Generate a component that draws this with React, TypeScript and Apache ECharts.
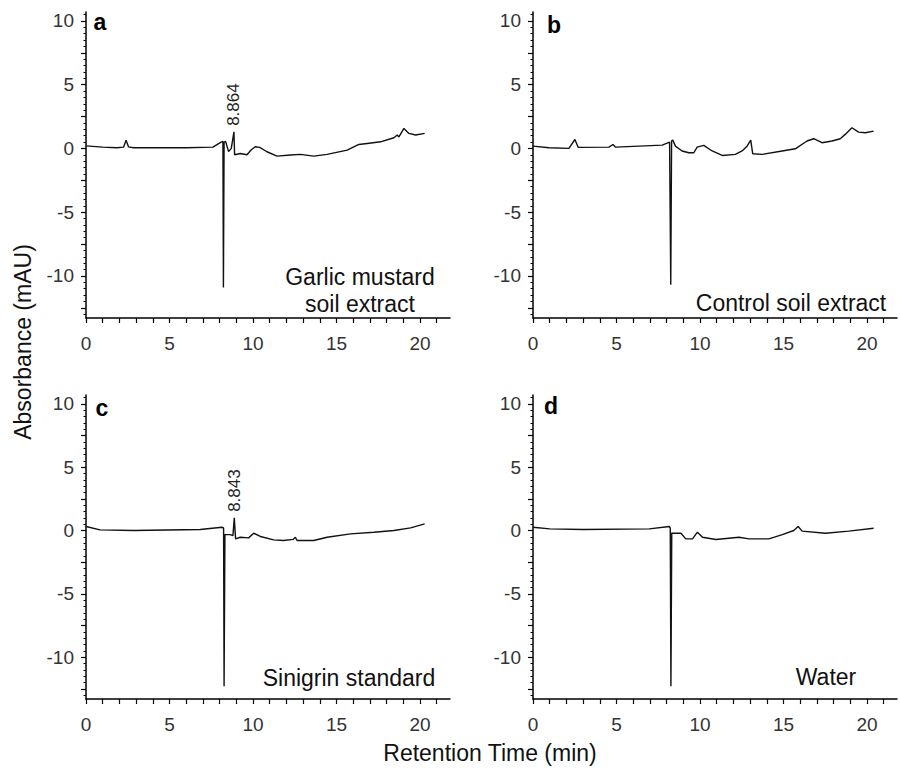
import React, { useEffect, useRef } from "react";
import * as echarts from "echarts";

const panelLetters = ["a", "b", "c", "d"];
const sampleNames = ["Garlic mustard\nsoil extract", "Control soil extract", "Sinigrin standard", "Water"];
const xAxisTitle = "Retention Time (min)";
const yAxisTitle = "Absorbance (mAU)";
const xTickLabels = [0, 5, 10, 15, 20];
const xTicks = [0, 1, 2, 3, 4, 5, 6, 7, 8, 9, 10, 11, 12, 13, 14, 15, 16, 17, 18, 19, 20, 21];
const yTickLabels = [-10, -5, 0, 5, 10];
const yMajorTicks = [-12.5, -10, -7.5, -5, -2.5, 0, 2.5, 5, 7.5, 10];
const yMinorTicks = [
  -13, -12.5, -12, -11.5, -11, -10.5, -10, -9.5, -9, -8.5, -8, -7.5, -7, -6.5, -6, -5.5, -5, -4.5, -4, -3.5, -3,
  -2.5, -2, -1.5, -1, -0.5, 0, 0.5, 1, 1.5, 2, 2.5, 3, 3.5, 4, 4.5, 5, 5.5, 6, 6.5, 7, 7.5, 8, 8.5, 9, 9.5, 10, 10.5,
];

// [retention time (min), absorbance (mAU)]
const traceA = [
  [0, 0.2], [1.0, 0.1], [1.84, 0.05], [2.25, 0.1], [2.4, 0.65], [2.55, 0.12], [2.84, 0.05], [4, 0.05], [6, 0.05],
  [7.6, 0.1], [8.04, 0.45], [8.2, 0.55], [8.23, -10.9], [8.27, 0.5], [8.36, 0.55], [8.54, -0.25], [8.7, 0.0],
  [8.86, 1.3], [8.9, -0.5], [9.24, -0.4], [9.64, -0.5], [9.9, -0.1], [10.14, 0.13], [10.4, 0.08], [10.84, -0.26],
  [11.44, -0.6], [12.24, -0.52], [12.84, -0.47], [13.64, -0.6], [14.44, -0.47], [15.64, -0.13], [16.34, 0.31],
  [16.84, 0.39], [17.64, 0.52], [18.44, 0.84], [18.64, 1.05], [18.74, 0.9], [19.04, 1.57], [19.34, 1.18],
  [19.74, 1.05], [20.28, 1.18],
];
const traceB = [
  [0, 0.18], [0.96, 0.05], [2.15, 0.0], [2.51, 0.7], [2.71, 0.08], [4.55, 0.1], [4.79, 0.31], [4.95, 0.1],
  [7.74, 0.26], [8.18, 0.5], [8.25, -10.7], [8.3, 0.6], [8.37, 0.65], [8.53, 0.18], [8.93, -0.2], [9.33, -0.34],
  [9.63, -0.34], [9.83, 0.1], [10.23, 0.24], [10.73, -0.2], [11.33, -0.55], [12.12, -0.47], [12.52, -0.2],
  [12.82, 0.18], [13.04, 0.65], [13.16, -0.42], [13.72, -0.47], [14.92, -0.2], [15.71, -0.03], [16.41, 0.58],
  [16.81, 0.76], [17.31, 0.45], [17.91, 0.58], [18.4, 0.76], [18.7, 1.1], [19.1, 1.62], [19.5, 1.28],
  [19.9, 1.23], [20.4, 1.36],
];
const traceC = [
  [0, 0.32], [0.84, 0.05], [2.84, 0.0], [6.84, 0.08], [8.14, 0.26], [8.24, 0.2], [8.27, -12.3], [8.32, -0.3],
  [8.36, -0.32], [8.64, -0.32], [8.8, -0.4], [8.88, 1.0], [8.96, -0.66], [9.24, -0.53], [9.74, -0.58],
  [10.04, -0.21], [10.44, -0.47], [11.24, -0.74], [11.84, -0.79], [12.4, -0.7], [12.54, -0.53], [12.64, -0.79],
  [13.64, -0.79], [14.44, -0.53], [15.84, -0.26], [17.24, -0.13], [18.44, 0.0], [19.44, 0.21], [20.28, 0.53],
];
const traceD = [
  [0, 0.26], [1.0, 0.13], [2.99, 0.08], [6.97, 0.13], [8.16, 0.32], [8.22, 0.2], [8.26, -12.3], [8.31, -0.2],
  [8.36, -0.21], [8.86, -0.21], [9.15, -0.66], [9.55, -0.66], [9.85, -0.13], [10.15, -0.53], [10.95, -0.71],
  [12.34, -0.53], [12.94, -0.66], [14.13, -0.66], [14.93, -0.32], [15.62, 0.0], [15.88, 0.32], [16.12, -0.05],
  [17.51, -0.21], [18.91, -0.05], [20.4, 0.18],
];
const traces = [traceA, traceB, traceC, traceD];

const peakAnnotations = [
  { panel: 0, time: 8.86, value: 1.3, text: "8.864" },
  { panel: 2, time: 8.9, value: 1.0, text: "8.843" },
];

const FONT = "'Liberation Sans', Arial, sans-serif";

const grids = [
  { left: 86, top: 12, width: 364, height: 306 },
  { left: 533, top: 12, width: 364, height: 306 },
  { left: 86, top: 395, width: 364, height: 304 },
  { left: 533, top: 395, width: 364, height: 304 },
];
const letterPos = [
  [100, 22],
  [554, 25],
  [102, 408],
  [551, 406],
];
const namePos = [
  [360, 290],
  [791, 303],
  [349, 678],
  [826, 677],
];

export default function App() {
  const ref = useRef<HTMLDivElement>(null);
  useEffect(() => {
    if (!ref.current) return;
    const chart = echarts.init(ref.current, null, { renderer: "svg" });
    const xAxes = grids.map((_, i) => ({
      type: "value",
      gridIndex: i,
      min: 0,
      max: 21.8,
      axisLine: { show: true, onZero: false, lineStyle: { color: "#000", width: 1.5 } },
      axisTick: { show: true, customValues: xTicks, length: 5, lineStyle: { color: "#000", width: 1.2 } },
      axisLabel: { customValues: xTickLabels, fontSize: 19, color: "#333", fontFamily: FONT, margin: 16 },
      splitLine: { show: false },
    }));
    const yAxes: any[] = [];
    grids.forEach((_, i) => {
      yAxes.push({
        type: "value",
        gridIndex: i,
        position: "left",
        min: -13.3,
        max: 10.7,
        axisLine: { show: true, onZero: false, lineStyle: { color: "#000", width: 1.5 } },
        axisTick: { show: true, customValues: yMajorTicks, length: 5, lineStyle: { color: "#000", width: 1.2 } },
        axisLabel: { customValues: yTickLabels, fontSize: 19, color: "#333", fontFamily: FONT, margin: 12 },
        splitLine: { show: false },
      });
      yAxes.push({
        type: "value",
        gridIndex: i,
        position: "left",
        offset: 0,
        min: -13.3,
        max: 10.7,
        axisLine: { show: false, onZero: false },
        axisTick: { show: true, customValues: yMinorTicks, length: 2.5, lineStyle: { color: "#000", width: 1 } },
        axisLabel: { show: false },
        splitLine: { show: false },
      });
    });
    const series = traces.map((tr, i) => {
      const ann = peakAnnotations.filter((a) => a.panel === i);
      return {
        type: "line",
        xAxisIndex: i,
        yAxisIndex: i * 2,
        data: tr,
        showSymbol: false,
        symbol: "none",
        lineStyle: { color: "#111", width: 1.4 },
        markPoint: ann.length
          ? {
              symbol: "circle",
              symbolSize: 0,
              data: ann.map((a) => ({
                coord: [a.time, a.value],
                label: {
                  show: true,
                  formatter: a.text,
                  position: "top",
                  distance: 6,
                  rotate: 90,
                  align: "left",
                  verticalAlign: "middle",
                  fontSize: 17,
                  color: "#222",
                  fontFamily: FONT,
                },
              })),
            }
          : undefined,
      };
    });
    const graphics: any[] = [];
    panelLetters.forEach((l, i) => {
      graphics.push({
        type: "text",
        x: letterPos[i][0],
        y: letterPos[i][1],
        style: {
          text: l,
          fontSize: 23,
          fontWeight: "bold",
          fontFamily: FONT,
          fill: "#000",
          align: "center",
          verticalAlign: "middle",
        },
      });
      graphics.push({
        type: "text",
        x: namePos[i][0],
        y: namePos[i][1],
        style: {
          text: sampleNames[i],
          fontSize: 23,
          lineHeight: 27,
          fontFamily: FONT,
          fill: "#111",
          align: "center",
          verticalAlign: "middle",
        },
      });
    });
    graphics.push({
      type: "text",
      x: 490,
      y: 753,
      style: { text: xAxisTitle, fontSize: 23, fontFamily: FONT, fill: "#111", align: "center", verticalAlign: "middle" },
    });
    graphics.push({
      type: "text",
      x: 23,
      y: 342,
      rotation: Math.PI / 2,
      style: { text: yAxisTitle, fontSize: 23, fontFamily: FONT, fill: "#111", align: "center", verticalAlign: "middle" },
    });
    chart.setOption({
      animation: false,
      backgroundColor: "#fff",
      grid: grids,
      xAxis: xAxes,
      yAxis: yAxes,
      series,
      graphic: graphics,
    });
    return () => chart.dispose();
  }, []);
  return <div ref={ref} style={{ position: "fixed", left: 0, top: 0, width: 900, height: 768 }} />;
}
